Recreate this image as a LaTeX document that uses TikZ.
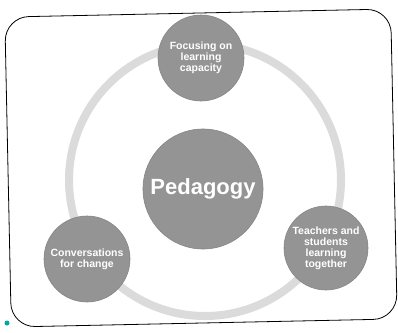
\documentclass[tikz,border=0pt]{standalone}
\usepackage{fontspec}
\setmainfont{Liberation Sans}
\begin{document}
\begin{tikzpicture}[x=1pt,y=-1pt,
  ball/.style={circle,fill=black!42,draw=black!48,line width=0.6pt,text=white,font=\bfseries\fontsize{10.5}{11}\selectfont,align=center,inner sep=0pt},
  ring/.style={draw=black!14,line width=8pt}]
\useasboundingbox (0,0) rectangle (398,332);
\fill[white] (0,0) rectangle (398,332);
\node[draw=black,line width=0.8pt,rounded corners=24pt,minimum width=386pt,minimum height=310pt,rotate=1.2] (frame) at (201,168) {};
\coordinate (rc) at (205,180);
\draw[ring] (rc) circle[radius=136];
\node[ball,minimum size=86pt] (top) at (201,58) {Focusing on\\learning\\capacity};
\node[ball,minimum size=120pt,font=\bfseries\fontsize{22}{24}\selectfont] (ped) at (203,189) {Pedagogy};
\node[ball,minimum size=86pt] (left) at (87,259) {Conversations\\for change};
\node[ball,minimum size=84pt] (right) at (326,248) {Teachers and\\students\\learning\\together};
\fill[teal!70!cyan] (7,323) circle[radius=2.5];
\end{tikzpicture}
\end{document}
